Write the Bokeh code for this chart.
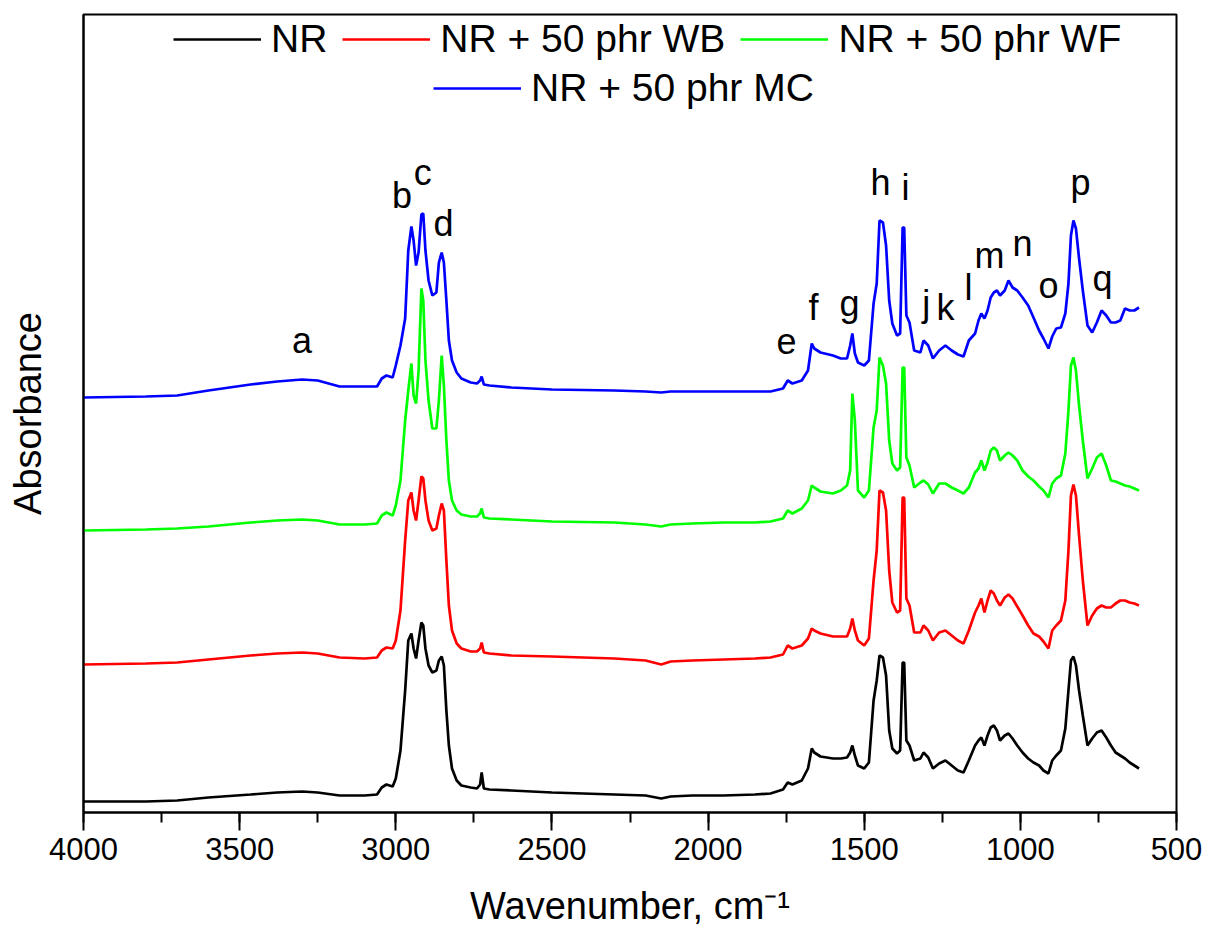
from bokeh.plotting import figure
from bokeh.models import (Range1d, SingleIntervalTicker, FixedTicker, Legend, LegendItem,
                          ColumnDataSource)
from bokeh.core.properties import value
from bokeh.embed import file_html
from bokeh.resources import INLINE

# ---------------- data ----------------
wavenumber = [4000, 3800, 3700, 3600, 3465, 3380, 3300, 3250, 3180, 3100,
              3060, 3045, 3030, 3010, 3000, 2985, 2970, 2960, 2950, 2943,
              2935, 2927, 2918, 2912, 2905, 2895, 2883, 2870, 2862, 2853,
              2846, 2838, 2830, 2820, 2805, 2790, 2760, 2740, 2730, 2725,
              2718, 2700, 2630, 2500, 2300, 2200, 2150, 2120, 2050, 1950,
              1850, 1800, 1760, 1745, 1730, 1700, 1680, 1668, 1660, 1640,
              1600, 1575, 1555, 1545, 1538, 1530, 1520, 1500, 1485, 1470,
              1460, 1451, 1440, 1430, 1420, 1410, 1395, 1385, 1377, 1372,
              1365, 1355, 1340, 1320, 1310, 1295, 1280, 1260, 1240, 1220,
              1200, 1182, 1165, 1145, 1134, 1125, 1115, 1105, 1095, 1085,
              1075, 1065, 1050, 1038, 1025, 1010, 993, 975, 958, 940,
              926, 910, 898, 885, 870, 856, 846, 838, 830, 822,
              812, 800, 785, 770, 755, 740, 725, 710, 695, 680,
              665, 650, 635, 620]

abs_nr = [0.11, 0.11, 0.12, 0.15, 0.18, 0.20, 0.21, 0.20, 0.17, 0.17,
          0.18, 0.25, 0.28, 0.26, 0.34, 0.62, 1.22, 1.72, 1.79, 1.64,
          1.54, 1.72, 1.90, 1.87, 1.64, 1.47, 1.40, 1.42, 1.52, 1.56,
          1.47, 1.02, 0.67, 0.44, 0.32, 0.27, 0.25, 0.24, 0.28, 0.40,
          0.24, 0.23, 0.22, 0.20, 0.18, 0.17, 0.14, 0.16, 0.17, 0.17,
          0.18, 0.19, 0.23, 0.30, 0.28, 0.32, 0.44, 0.64, 0.60, 0.56,
          0.54, 0.54, 0.55, 0.60, 0.67, 0.57, 0.47, 0.44, 0.50, 1.12,
          1.32, 1.57, 1.55, 1.37, 0.82, 0.64, 0.59, 0.62, 1.50, 1.50,
          0.72, 0.67, 0.52, 0.54, 0.60, 0.55, 0.44, 0.49, 0.52, 0.47,
          0.42, 0.40, 0.52, 0.67, 0.72, 0.75, 0.67, 0.77, 0.85, 0.87,
          0.82, 0.72, 0.77, 0.79, 0.74, 0.67, 0.60, 0.54, 0.50, 0.47,
          0.42, 0.39, 0.52, 0.57, 0.62, 0.84, 1.22, 1.52, 1.56, 1.47,
          1.22, 0.97, 0.67, 0.74, 0.80, 0.82, 0.75, 0.67, 0.60, 0.57,
          0.54, 0.50, 0.47, 0.44]

abs_wb = [1.48, 1.49, 1.50, 1.53, 1.57, 1.59, 1.60, 1.59, 1.55, 1.54,
          1.55, 1.62, 1.65, 1.64, 1.72, 2.02, 2.72, 3.12, 3.20, 3.02,
          2.92, 3.12, 3.36, 3.34, 3.12, 2.92, 2.82, 2.84, 2.97, 3.09,
          3.02, 2.52, 2.07, 1.82, 1.69, 1.64, 1.61, 1.61, 1.64, 1.70,
          1.60, 1.59, 1.57, 1.56, 1.54, 1.52, 1.48, 1.51, 1.52, 1.53,
          1.54, 1.55, 1.58, 1.67, 1.64, 1.67, 1.74, 1.84, 1.82, 1.79,
          1.76, 1.76, 1.76, 1.84, 1.94, 1.82, 1.72, 1.67, 1.74, 2.32,
          2.62, 3.22, 3.20, 3.02, 2.42, 2.10, 2.00, 2.02, 3.15, 3.15,
          2.14, 2.07, 1.80, 1.80, 1.87, 1.82, 1.72, 1.80, 1.82, 1.77,
          1.72, 1.69, 1.82, 2.00, 2.07, 2.14, 2.00, 2.12, 2.22, 2.19,
          2.12, 2.07, 2.15, 2.18, 2.14, 2.06, 1.97, 1.87, 1.79, 1.76,
          1.71, 1.64, 1.82, 1.87, 1.92, 2.12, 2.62, 3.17, 3.28, 3.17,
          2.77, 2.32, 1.87, 1.97, 2.04, 2.07, 2.05, 2.05, 2.09, 2.12,
          2.12, 2.10, 2.09, 2.07]

abs_wf = [2.82, 2.83, 2.84, 2.86, 2.90, 2.92, 2.93, 2.92, 2.88, 2.88,
          2.89, 2.97, 3.00, 2.97, 3.07, 3.32, 3.92, 4.22, 4.49, 4.17,
          4.09, 4.42, 5.24, 5.12, 4.52, 4.12, 3.84, 3.84, 4.12, 4.57,
          4.27, 3.72, 3.32, 3.12, 3.02, 2.98, 2.96, 2.96, 2.99, 3.04,
          2.95, 2.94, 2.93, 2.91, 2.90, 2.88, 2.86, 2.88, 2.89, 2.90,
          2.90, 2.91, 2.94, 3.02, 2.99, 3.04, 3.12, 3.27, 3.25, 3.21,
          3.19, 3.22, 3.27, 3.42, 4.19, 3.92, 3.22, 3.15, 3.22, 3.85,
          4.02, 4.55, 4.47, 4.29, 3.72, 3.49, 3.42, 3.45, 4.45, 4.45,
          3.55, 3.47, 3.25, 3.30, 3.32, 3.28, 3.19, 3.29, 3.29, 3.25,
          3.22, 3.19, 3.25, 3.40, 3.44, 3.52, 3.42, 3.50, 3.62, 3.65,
          3.62, 3.52, 3.57, 3.60, 3.57, 3.52, 3.42, 3.36, 3.32, 3.26,
          3.22, 3.15, 3.29, 3.34, 3.37, 3.59, 4.02, 4.47, 4.55, 4.42,
          4.07, 3.72, 3.34, 3.44, 3.55, 3.59, 3.47, 3.32, 3.31, 3.29,
          3.27, 3.26, 3.24, 3.22]

abs_mc = [4.15, 4.16, 4.17, 4.22, 4.28, 4.31, 4.33, 4.32, 4.26, 4.26,
          4.26, 4.34, 4.37, 4.35, 4.47, 4.67, 4.94, 5.62, 5.86, 5.72,
          5.47, 5.60, 5.98, 5.99, 5.62, 5.32, 5.17, 5.20, 5.50, 5.60,
          5.50, 5.12, 4.72, 4.52, 4.40, 4.34, 4.30, 4.29, 4.32, 4.36,
          4.28, 4.27, 4.25, 4.23, 4.22, 4.21, 4.20, 4.21, 4.21, 4.21,
          4.21, 4.21, 4.24, 4.32, 4.29, 4.32, 4.42, 4.69, 4.64, 4.60,
          4.57, 4.54, 4.54, 4.67, 4.79, 4.59, 4.50, 4.47, 4.52, 5.09,
          5.29, 5.92, 5.90, 5.67, 5.12, 4.89, 4.77, 4.79, 5.85, 5.85,
          4.97, 4.90, 4.62, 4.60, 4.72, 4.67, 4.54, 4.62, 4.67, 4.62,
          4.58, 4.56, 4.72, 4.79, 4.92, 4.99, 4.94, 5.02, 5.15, 5.20,
          5.22, 5.17, 5.22, 5.32, 5.25, 5.22, 5.15, 5.07, 4.95, 4.82,
          4.74, 4.64, 4.76, 4.84, 4.85, 4.99, 5.29, 5.77, 5.92, 5.84,
          5.54, 5.22, 4.87, 4.80, 4.90, 5.02, 4.97, 4.90, 4.90, 4.92,
          5.04, 5.02, 5.02, 5.05]

series_names = ["NR", "NR + 50 phr WB", "NR + 50 phr WF", "NR + 50 phr MC"]
series_colors = ["#000000", "#ff0000", "#00ff00", "#0000ff"]

peak_letters = ["a", "b", "c", "d", "e", "f", "g", "h", "i",
                "j", "k", "l", "m", "n", "o", "p", "q"]
peak_wn = [3300, 2980, 2914, 2847, 1749, 1662, 1547, 1448, 1368,
           1301, 1240, 1166, 1099, 993, 910, 807, 737]
peak_y = [4.72, 6.17, 6.40, 5.89, 4.72, 5.05, 5.09, 6.30, 6.25,
          5.09, 5.05, 5.25, 5.57, 5.69, 5.27, 6.30, 5.34]

x_ticks_interval = 500

# ---------------- figure ----------------
FONT = "Liberation Sans"

p = figure(width=1205, height=940, output_backend="svg", toolbar_location=None,
           x_range=Range1d(4000, 500), y_range=Range1d(0, 7.98),
           min_border_left=83, min_border_right=29, min_border_top=14,
           min_border_bottom=128, background_fill_color="white",
           border_fill_color="white")

p.xgrid.visible = False
p.ygrid.visible = False
p.outline_line_color = "black"
p.outline_line_width = 2

xa = p.xaxis[0]
xa.ticker = SingleIntervalTicker(interval=x_ticks_interval, num_minor_ticks=2)
xa.axis_label = "Wavenumber, cm\u207b\u00b9"
xa.axis_label_text_font = FONT
xa.axis_label_text_font_size = "38px"
xa.axis_label_text_font_style = "normal"
xa.axis_label_text_color = "black"
xa.axis_label_standoff = 22
xa.major_label_text_font = FONT
xa.major_label_text_font_size = "31px"
xa.major_label_text_color = "black"
xa.major_label_standoff = 7
xa.major_tick_out = 18
xa.major_tick_in = 0
xa.minor_tick_out = 10
xa.minor_tick_in = 0
xa.axis_line_width = 2
xa.major_tick_line_width = 2
xa.minor_tick_line_width = 2
xa.axis_line_color = "black"
xa.major_tick_line_color = "black"
xa.minor_tick_line_color = "black"

ya = p.yaxis[0]
ya.ticker = FixedTicker(ticks=[])
ya.axis_label = "Absorbance"
ya.axis_label_text_font = FONT
ya.axis_label_text_font_size = "38px"
ya.axis_label_text_font_style = "normal"
ya.axis_label_text_color = "black"
ya.axis_label_standoff = 35
ya.major_tick_out = 0
ya.minor_tick_out = 0
ya.axis_line_width = 2
ya.axis_line_color = "black"

renderers = []
for name, col, ys in zip(series_names, series_colors, [abs_nr, abs_wb, abs_wf, abs_mc]):
    src = ColumnDataSource(dict(x=wavenumber, y=ys))
    r = p.line("x", "y", source=src, line_color=col, line_width=2.7)
    renderers.append(r)

p.text(x=peak_wn, y=peak_y, text=peak_letters, text_font=value(FONT),
       text_font_size="36px", text_align="center", text_baseline="middle",
       text_color="black")

common = dict(orientation="horizontal", border_line_color=None,
              background_fill_alpha=0, padding=0, margin=0, spacing=15,
              glyph_width=88, glyph_height=44, label_height=44, label_standoff=10,
              label_text_font=FONT, label_text_font_size="39px",
              label_text_color="black")

leg1 = Legend(items=[LegendItem(label=series_names[i], renderers=[renderers[i]]) for i in range(3)],
              location=(90, 751), **common)
leg2 = Legend(items=[LegendItem(label=series_names[3], renderers=[renderers[3]])],
              location=(350, 702), **common)
p.add_layout(leg1)
p.add_layout(leg2)

open("out.html", "w").write(file_html(p, INLINE))
